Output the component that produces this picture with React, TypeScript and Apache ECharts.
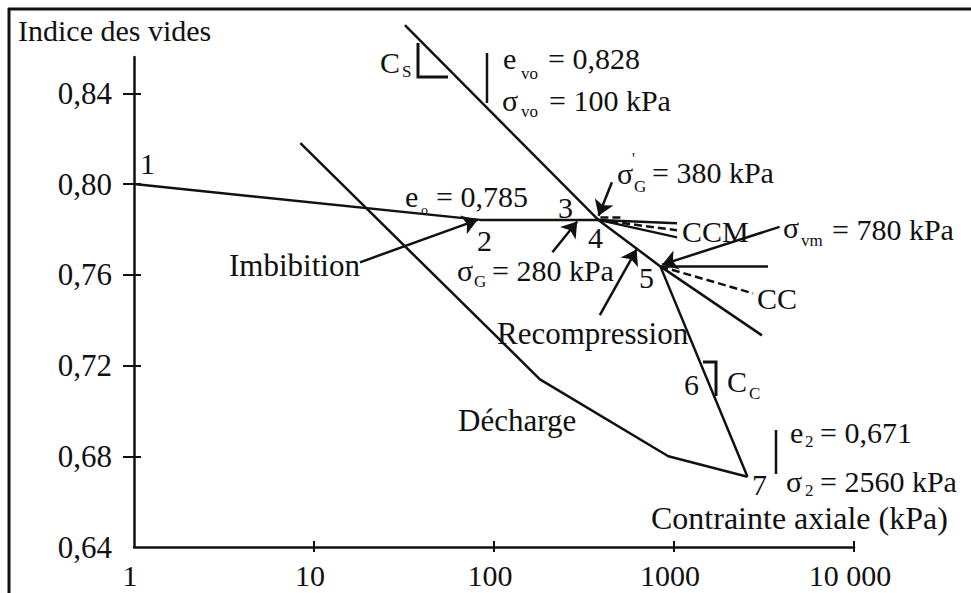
import React, { useEffect, useRef } from "react";
import * as echarts from "echarts";

// ---- axis ticks ----
const yLabelValues = [0.64, 0.68, 0.72, 0.76, 0.8, 0.84];
const yTickValues = [0.68, 0.72, 0.76, 0.8, 0.84];
const xLabelValues = [1, 10, 100, 1000, 10000];
const xTickValues = [10, 100, 1000, 10000];

// ---- curves (σ in kPa, e) ----
const loadingPath = [[1, 0.8], [84, 0.7842], [380, 0.7842], [840, 0.7637], [2560, 0.671]];
const unloadingPath = [[2560, 0.671], [930, 0.68], [180, 0.7139], [8.4, 0.818]];
const csLine = [[32, 0.87], [380, 0.7842]];
const ccmSolidA = [[380, 0.7842], [1040, 0.7827]];
const ccmDashed = [[380, 0.7842], [1040, 0.7796]];
const ccmSolidB = [[380, 0.7842], [1040, 0.7765]];
const e0Dashed = [[390, 0.7852], [514, 0.7852]];
const ccHoriz = [[840, 0.7637], [3330, 0.7637]];
const ccDashed = [[840, 0.7637], [2750, 0.7518]];
const ccSolid = [[840, 0.7637], [3080, 0.7333]];

// ---- annotation arrows ----
const arrows = [
  [[18, 0.7655], [81, 0.7842]], // Imbibition
  [[211, 0.7699], [290, 0.7835]], // σG
  [[452, 0.8008], [381, 0.786]], // σ'G
  [[387, 0.7422], [620, 0.7712]], // Recompression
  [[3860, 0.7811], [860, 0.7645]], // σvm
];

const FONT = "'Liberation Serif', 'Times New Roman', serif";
const INK = "#111";

function txt(text: string, x: number, y: number, size = 30) {
  return {
    type: "text",
    x,
    y,
    silent: true,
    z: 100,
    style: {
      text,
      fontSize: size,
      lineHeight: size,
      fontFamily: FONT,
      fill: INK,
      align: "left",
      verticalAlign: "middle",
    },
  };
}
function poly(points: number[][], w = 3) {
  return { type: "polyline", silent: true, z: 100, shape: { points }, style: { stroke: INK, lineWidth: w, fill: null } };
}

function lineSeries(data: number[][], dashed = false) {
  return {
    type: "line",
    data,
    showSymbol: false,
    symbol: "none",
    clip: false,
    silent: true,
    lineStyle: { color: INK, width: 2.5, type: dashed ? [8, 4] : "solid" },
  };
}

export default function App() {
  const ref = useRef<HTMLDivElement>(null);
  useEffect(() => {
    const chart = echarts.init(ref.current!, undefined, { renderer: "svg" });
    const axisBase = {
      axisLine: { show: true, onZero: false, lineStyle: { color: INK, width: 2.5 } },
      splitLine: { show: false },
    };
    chart.setOption({
      animation: false,
      backgroundColor: "#fff",
      grid: { left: 134, top: 57, width: 720, height: 490 },
      xAxis: [
        {
          type: "log",
          logBase: 10,
          min: 1,
          max: 10000,
          position: "bottom",
          ...axisBase,
          axisTick: { show: true, inside: false, length: 5, customValues: xTickValues, lineStyle: { color: INK, width: 2 } },
          axisLabel: {
            customValues: xLabelValues,
            margin: 13,
            fontSize: 30,
            fontFamily: FONT,
            color: INK,
            padding: [0, 8, 0, 0],
            formatter: (v: number) => (v >= 10000 ? "10 000" : String(Math.round(v))),
          },
        },
        {
          type: "log",
          logBase: 10,
          min: 1,
          max: 10000,
          position: "bottom",
          axisLine: { show: false, onZero: false },
          splitLine: { show: false },
          axisTick: { show: true, inside: true, length: 6, customValues: xTickValues, lineStyle: { color: INK, width: 2 } },
          axisLabel: { show: false },
        },
      ],
      yAxis: [
        {
          type: "value",
          min: 0.64,
          max: 0.856,
          interval: 0.04,
          position: "left",
          ...axisBase,
          axisTick: { show: true, inside: false, length: 11, customValues: yTickValues, lineStyle: { color: INK, width: 2 } },
          axisLabel: {
            customValues: yLabelValues,
            margin: 22,
            fontSize: 31,
            fontFamily: FONT,
            color: INK,
            formatter: (v: number) => v.toFixed(2).replace(".", ","),
          },
        },
        {
          type: "value",
          min: 0.64,
          max: 0.856,
          interval: 0.04,
          position: "left",
          axisLine: { show: false, onZero: false },
          splitLine: { show: false },
          axisTick: { show: true, inside: true, length: 7, customValues: yTickValues, lineStyle: { color: INK, width: 2 } },
          axisLabel: { show: false },
        },
      ],
      series: [
        lineSeries(loadingPath),
        lineSeries(unloadingPath),
        lineSeries(csLine),
        lineSeries(ccmSolidA),
        lineSeries(ccmDashed, true),
        lineSeries(ccmSolidB),
        lineSeries(e0Dashed, true),
        lineSeries(ccHoriz),
        lineSeries(ccDashed, true),
        lineSeries(ccSolid),
        {
          type: "lines",
          coordinateSystem: "cartesian2d",
          silent: true,
          symbol: ["none", "arrow"],
          symbolSize: [9, 15],
          lineStyle: { color: INK, width: 2.5, opacity: 1 },
          itemStyle: { color: INK },
          data: arrows.map((c) => ({ coords: c })),
        },
      ],
      graphic: [
        { type: "line", silent: true, shape: { x1: 8, y1: 9, x2: 971, y2: 9 }, style: { stroke: INK, lineWidth: 3 } },
        { type: "line", silent: true, shape: { x1: 9, y1: 8, x2: 9, y2: 593 }, style: { stroke: INK, lineWidth: 3 } },
        txt("Indice des vides", 18, 30),
        txt("C", 380, 62), txt("S", 402, 71, 17),
        poly([[418, 43], [418, 77], [448, 77]]),
        { type: "line", silent: true, shape: { x1: 487, y1: 53, x2: 487, y2: 103 }, style: { stroke: INK, lineWidth: 2.5 } },
        txt("e", 503, 58), txt("vo", 521, 73, 17), txt("= 0,828", 548, 58),
        txt("σ", 502, 100), txt("vo", 521, 111, 17), txt("= 100 kPa", 549, 100),
        txt("1", 140, 163),
        txt("e", 405, 196), txt("o", 421, 210, 14), txt("= 0,785", 436, 196),
        txt("Imbibition", 229, 265, 31),
        txt("2", 477, 240),
        txt("3", 558, 207),
        txt("4", 588, 237),
        txt("σ", 457, 270), txt("G", 474, 281, 17), txt("= 280 kPa", 492, 270),
        txt("σ", 617, 173), txt("'", 632, 158, 16), txt("G", 634, 186, 17), txt("= 380 kPa", 652, 172),
        txt("CCM", 682, 231),
        txt("σ", 783, 227), txt("vm", 801, 240, 17), txt("= 780 kPa", 832, 229),
        txt("5", 639, 277),
        txt("CC", 757, 298),
        txt("Recompression", 497, 333, 31),
        txt("6", 684, 384),
        poly([[703, 362], [716, 362], [716, 396]]),
        txt("C", 727, 381), txt("C", 749, 393, 17),
        txt("Décharge", 458, 420, 31),
        { type: "line", silent: true, shape: { x1: 776, y1: 430, x2: 776, y2: 474 }, style: { stroke: INK, lineWidth: 2.5 } },
        txt("e", 790, 432), txt("2", 805, 441, 17), txt("= 0,671", 820, 432),
        txt("σ", 786, 481), txt("2", 805, 490, 17), txt("= 2560 kPa", 820, 481),
        txt("7", 752, 484),
        txt("Contrainte axiale (kPa)", 651, 518, 32),
      ],
    });
    return () => chart.dispose();
  }, []);
  return (
    <div
      ref={ref}
      style={{ position: "fixed", left: 0, top: 0, width: 971, height: 593, background: "#fff" }}
    />
  );
}
